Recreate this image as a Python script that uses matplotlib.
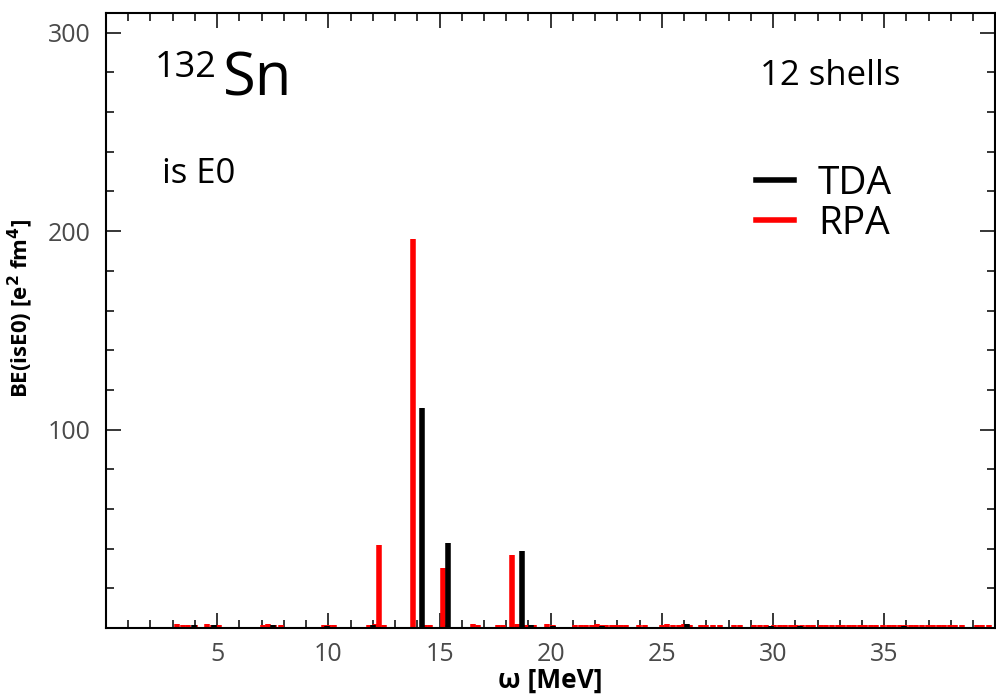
import numpy as np
import matplotlib.pyplot as plt
from matplotlib.ticker import MultipleLocator, FixedLocator

plt.rcParams['font.family'] = ['Open Sans', 'DejaVu Sans']

# TDA strengths (energy in MeV, B in e^2 fm^4)
tda_energy = [3.95, 4.85, 7.5, 9.95, 12.0, 14.2, 15.37, 18.7, 19.1, 20.1, 22.3, 26.15, 29.9, 31.2, 35.9]
tda_strength = [1.6, 1.5, 1.6, 1.2, 1.5, 111, 43, 39, 1.5, 1.2, 1.0, 1.8, 1.0, 1.0, 1.0]

# RPA strengths
rpa_energy = [12.3, 13.8, 15.15, 18.25,
              3.2, 3.45, 3.7, 4.0, 4.55, 4.8, 5.1, 7.05, 7.3, 7.55, 7.85,
              9.8, 10.05, 10.25, 11.85, 12.1, 12.5, 14.35, 14.55, 15.35,
              16.5, 16.75, 17.65, 17.85, 18.5, 18.8, 19.0, 19.25, 19.85, 20.1,
              21.1, 21.35, 21.6, 21.85, 22.1, 22.3, 22.5, 22.75, 22.95,
              23.15, 23.4, 23.95, 24.25, 25.0, 25.25, 25.5, 25.75, 26.0, 26.25,
              26.75, 27.0, 27.3, 27.6, 28.25, 28.5, 29.15, 29.4, 29.7,
              30.05, 30.3, 30.55, 30.8, 31.05, 31.3, 31.55, 31.8,
              32.15, 32.4, 32.65, 32.9, 33.15, 33.4, 33.65, 33.9, 34.15, 34.4, 34.65,
              34.95, 35.2, 35.45, 35.7, 35.95, 36.2,
              36.45, 36.7, 36.95, 37.2, 37.45, 37.7, 37.95, 38.2, 38.5,
              39.15, 39.4, 39.7]
rpa_strength = [42, 196, 30, 37,
                1.8, 1.6, 1.7, 1.5, 1.8, 1.6, 1.4, 1.7, 1.8, 1.5, 1.6,
                1.7, 1.5, 1.4, 1.6, 1.8, 1.5, 1.7, 1.4, 1.6,
                1.9, 1.4, 1.5, 1.7, 1.8, 1.6, 1.5, 1.7, 1.8, 1.4,
                1.6, 1.7, 1.5, 1.6, 1.8, 1.5, 1.6, 1.7, 1.5,
                1.6, 1.4, 1.7, 1.5, 1.6, 1.8, 1.5, 1.4, 2.2, 1.7,
                1.6, 1.5, 1.7, 1.4, 1.6, 1.5, 1.7, 1.6, 1.4,
                1.6, 1.7, 1.5, 1.6, 1.7, 1.5, 1.6, 1.7,
                1.5, 1.6, 1.7, 1.5, 1.6, 1.7, 1.5, 1.6, 1.7, 1.5, 1.6,
                1.7, 1.5, 1.6, 1.7, 1.5, 1.6,
                1.7, 1.5, 1.6, 1.7, 1.5, 1.6, 1.7, 1.5, 1.6,
                1.7, 1.5, 1.6]

fig = plt.figure(figsize=(9.96, 6.99), dpi=100)
ax = fig.add_axes([0.1064, 0.1016, 0.893, 0.880])

ax.vlines(rpa_energy, 0, rpa_strength, colors='#ff0000', linewidth=4, zorder=2)
ax.vlines(tda_energy, 0, tda_strength, colors='black', linewidth=4, zorder=3)

ax.set_xlim(0, 40)
ax.set_ylim(0, 310)
ax.xaxis.set_major_locator(FixedLocator([5, 10, 15, 20, 25, 30, 35]))
ax.xaxis.set_minor_locator(MultipleLocator(1))
ax.yaxis.set_major_locator(FixedLocator([100, 200, 300]))
ax.yaxis.set_minor_locator(MultipleLocator(20))

ax.tick_params(which='both', direction='in', top=True, right=True, width=1.1,
               labelsize=18, labelcolor='#4a4a4a')
ax.tick_params(axis='x', which='both', pad=10)
ax.tick_params(axis='y', which='both', pad=11)
ax.tick_params(which='major', length=11)
ax.tick_params(which='minor', length=6)
for s in ax.spines.values():
    s.set_linewidth(1.5)

ax.set_xlabel('ω [MeV]', fontsize=19, fontweight='bold', labelpad=0)
ax.set_ylabel('BE(isE0) [e$^{\\mathbf{2}}$ fm$^{\\mathbf{4}}$]', fontsize=16, fontweight='bold')
ax.yaxis.set_label_coords(-0.08, 0.52)

ax.text(0.055, 0.94, '132', transform=ax.transAxes, fontsize=26, va='top', ha='left')
ax.text(0.131, 0.94, 'Sn', transform=ax.transAxes, fontsize=43, va='top', ha='left')
ax.text(0.063, 0.765, 'is E0', transform=ax.transAxes, fontsize=25, va='top', ha='left')
ax.text(0.735, 0.925, '12 shells', transform=ax.transAxes, fontsize=25, va='top', ha='left')

ax.plot([], [], color='black', linewidth=4, label='TDA')
ax.plot([], [], color='#ff0000', linewidth=4, label='RPA')
ax.legend(loc='upper left', bbox_to_anchor=(0.691, 0.81), frameon=False, fontsize=28,
          handlelength=1.0, handletextpad=0.6, labelspacing=0.05)

fig.savefig('out.png', dpi=100)
